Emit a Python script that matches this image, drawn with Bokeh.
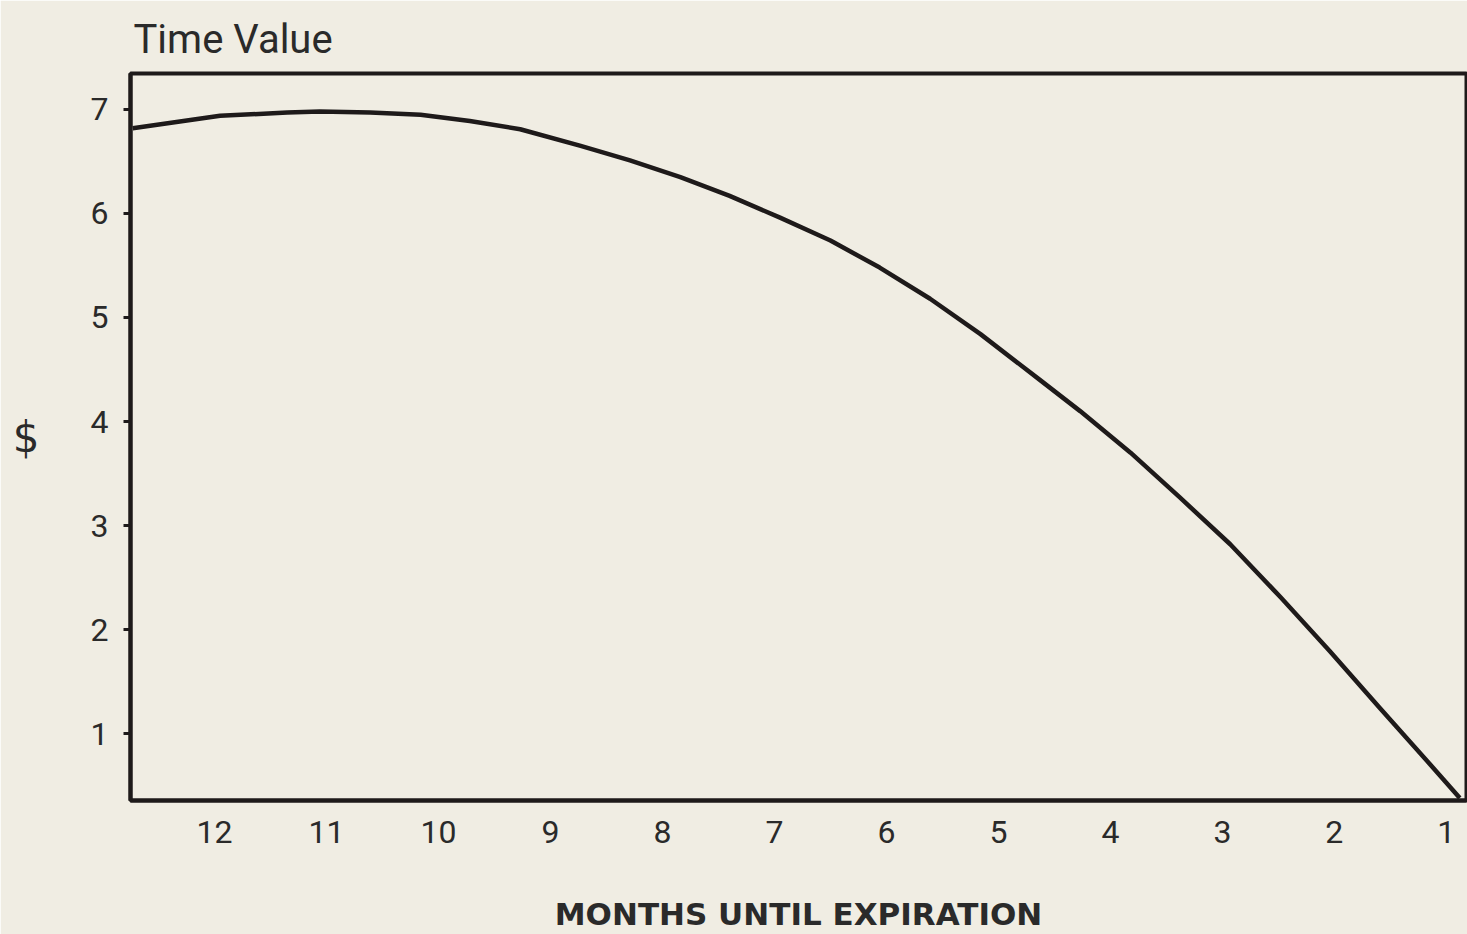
from bokeh.plotting import figure
from bokeh.models import Range1d, FixedTicker
from bokeh.embed import file_html
from bokeh.resources import INLINE

# Data
months_left = [12.73, 11.95, 11.35, 11.06, 10.61, 10.16, 9.72, 9.27, 8.73, 8.29,
               7.84, 7.40, 6.95, 6.50, 6.06, 5.61, 5.16, 4.63, 4.27, 3.82,
               3.38, 2.93, 2.48, 2.04, 1.59, 1.15, 0.88]
time_value = [6.82, 6.94, 6.97, 6.98, 6.97, 6.95, 6.89, 6.81, 6.65, 6.51,
              6.35, 6.17, 5.96, 5.74, 5.48, 5.18, 4.84, 4.40, 4.10, 3.70,
              3.27, 2.82, 2.31, 1.79, 1.24, 0.71, 0.38]
x_ticks = [12, 11, 10, 9, 8, 7, 6, 5, 4, 3, 2, 1]
y_ticks = [1, 2, 3, 4, 5, 6, 7]

BG = "#f0ede3"
INK = "#1e1a1a"
TXT = "#2a2a2a"
FONT = "Roboto"

p = figure(width=1467, height=934, output_backend="svg", toolbar_location=None,
           x_range=Range1d(12.75, 0.82), y_range=Range1d(0.356, 7.346),
           min_border_left=130, min_border_right=1, min_border_top=73,
           min_border_bottom=134, title="Time Value")

p.background_fill_color = BG
p.border_fill_color = BG
p.outline_line_color = INK
p.outline_line_width = 4
p.xgrid.visible = False
p.ygrid.visible = False

p.title.text_font = FONT
p.title.text_font_size = "40px"
p.title.text_font_style = "normal"
p.title.text_color = TXT
p.title.align = "left"
p.title.offset = 3
p.title.standoff = 22

p.line(months_left, time_value, line_color=INK, line_width=4.5, line_join="round")

xa = p.xaxis[0]
xa.ticker = FixedTicker(ticks=x_ticks)
xa.axis_line_color = INK
xa.axis_line_width = 4
xa.major_tick_line_color = None
xa.minor_tick_line_color = None
xa.major_tick_out = 0
xa.major_label_standoff = 20
xa.major_label_text_font = FONT
xa.major_label_text_font_size = "32px"
xa.major_label_text_color = TXT
xa.axis_label = "MONTHS UNTIL EXPIRATION"
xa.axis_label_text_font = "DejaVu Sans"
xa.axis_label_text_font_style = "bold"
xa.axis_label_text_font_size = "31px"
xa.axis_label_text_color = TXT
xa.axis_label_standoff = 50

ya = p.yaxis[0]
ya.ticker = FixedTicker(ticks=y_ticks)
ya.axis_line_color = INK
ya.axis_line_width = 4
ya.major_tick_line_color = INK
ya.major_tick_line_width = 3
ya.major_tick_out = 7
ya.major_tick_in = 0
ya.minor_tick_line_color = None
ya.major_label_standoff = 15
ya.major_label_text_font = FONT
ya.major_label_text_font_size = "32px"
ya.major_label_text_color = TXT
ya.axis_label = "$"
ya.axis_label_orientation = "horizontal"
ya.axis_label_text_font = "DejaVu Sans"
ya.axis_label_text_font_style = "normal"
ya.axis_label_text_font_size = "42px"
ya.axis_label_text_color = TXT
ya.axis_label_standoff = 48

open("out.html", "w").write(file_html(p, INLINE))
